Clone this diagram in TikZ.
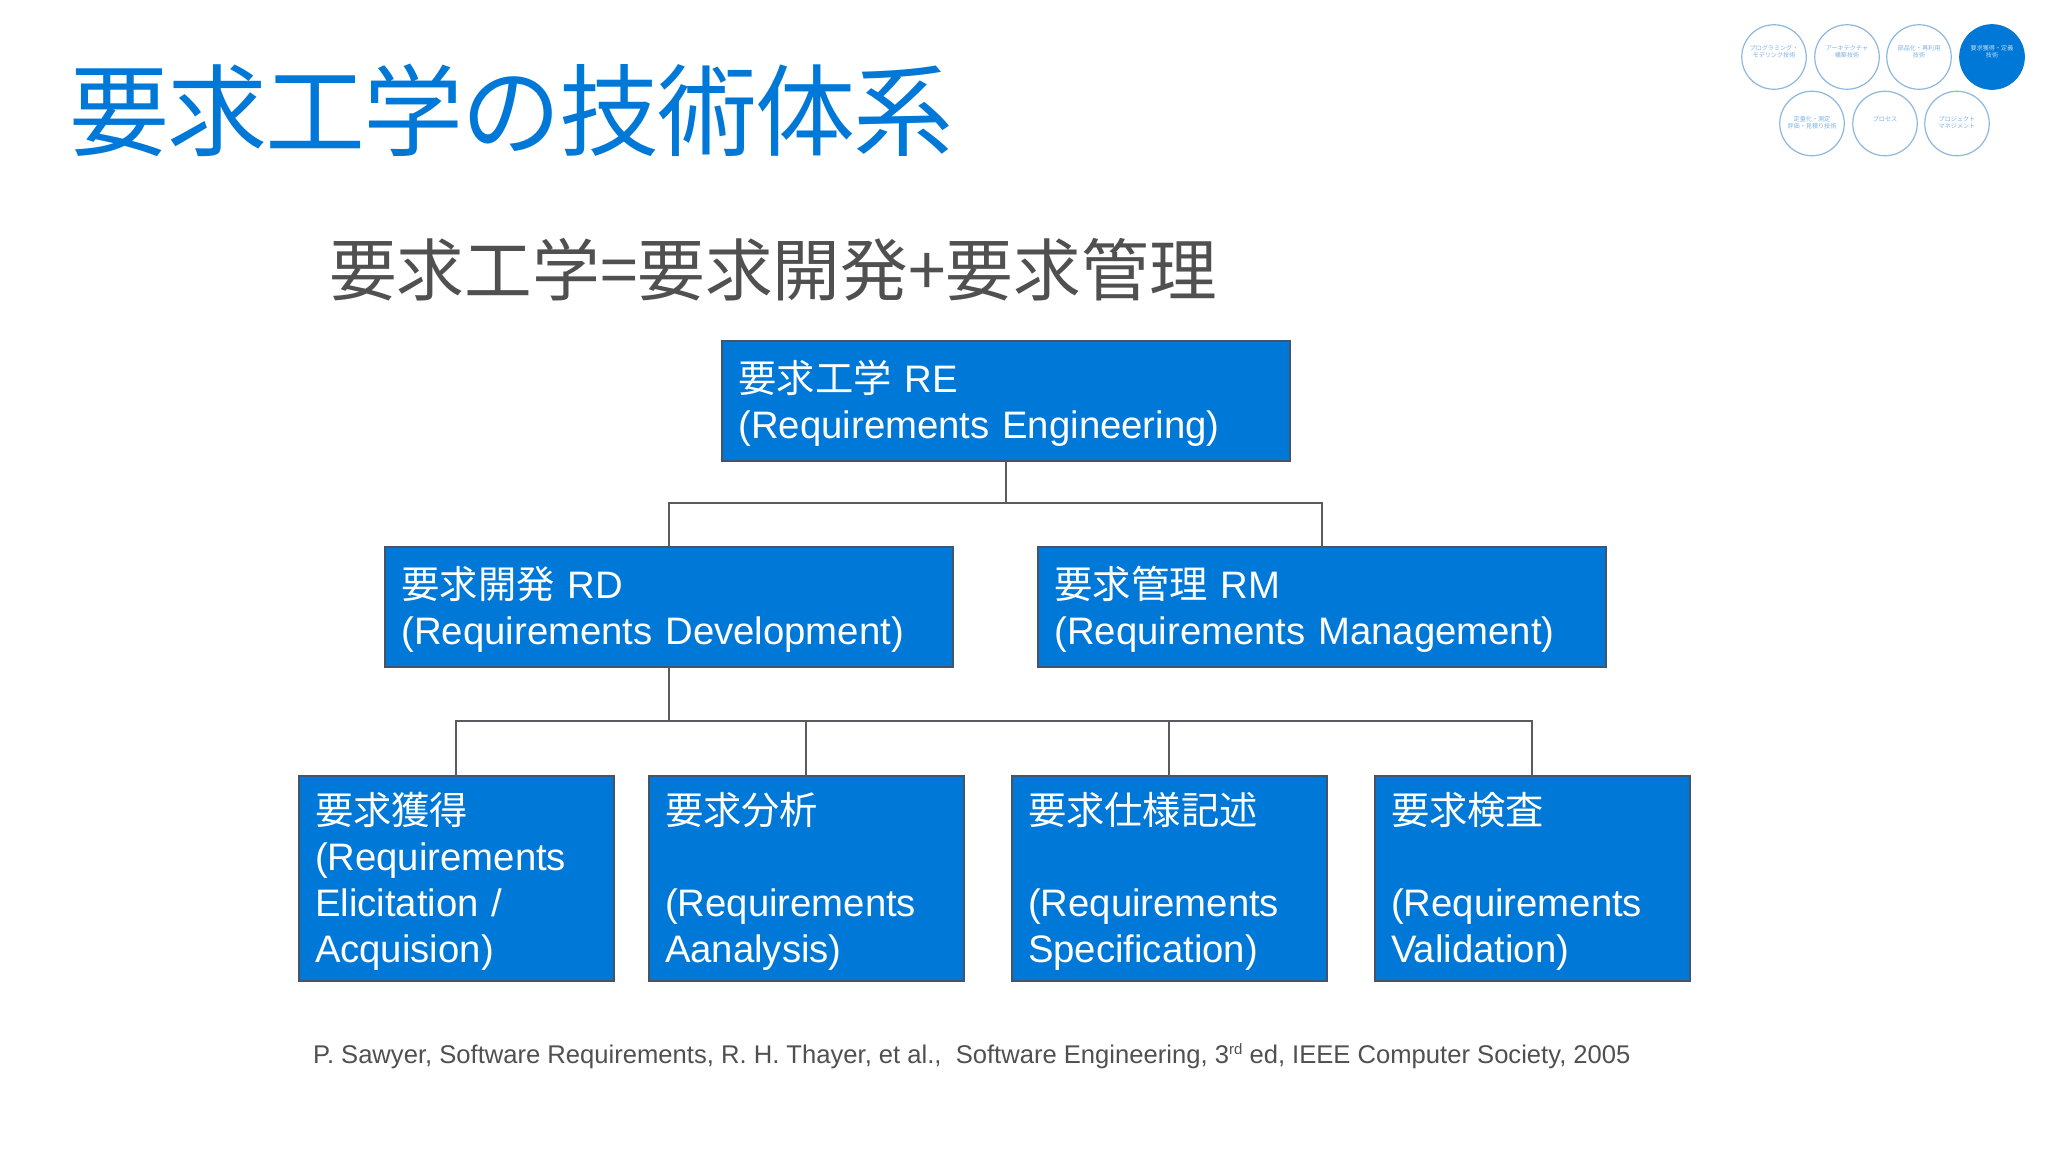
\documentclass[tikz,border=0pt]{standalone}
\usepackage{fontspec}
\setmainfont{Liberation Sans}
\newfontfamily\cjk{Noto Sans CJK JP}
\newcommand{\J}[1]{{\cjk\rule{0pt}{38pt}#1}}
\definecolor{boxblue}{HTML}{0078D7}
\definecolor{boxedge}{HTML}{44546A}
\definecolor{linegray}{HTML}{5A5A60}
\definecolor{headgray}{HTML}{505050}
\definecolor{circedge}{HTML}{8DB8E0}
\definecolor{circtext}{HTML}{7FB2E5}
\tikzset{
  x=1pt,y=-1pt,
  bluebox/.style={draw=boxedge,line width=2pt,fill=boxblue,text=white,outer sep=0pt,inner sep=0pt,
    align=left,font=\fontsize{38.3}{46}\selectfont},
  widebox/.style={bluebox,minimum width=568pt,minimum height=120pt,text width=535pt},
  tallbox/.style={bluebox,minimum width=315pt,minimum height=205pt,text width=282pt},
  link/.style={draw=linegray,line width=2pt},
  badge/.style={circle,draw=circedge,line width=1.2pt,minimum size=64.5pt,inner sep=0pt},
  badgeon/.style={badge,fill=boxblue,draw=boxblue},
  badgetext/.style={inner sep=0pt,align=center,text=circtext,font=\fontsize{6.1}{7}\selectfont\cjk},
  badgetexton/.style={badgetext,text=white!75!boxblue},
}
\begin{document}
\begin{tikzpicture}
\useasboundingbox (0,0) rectangle (2048,1152);
\fill[white] (0,0) rectangle (2048,1152);
\node[anchor=west,inner sep=0pt,text=boxblue,font=\fontsize{100}{110}\selectfont\cjk\addfontfeature{LetterSpace=-2}] (title) at (69,110) {要求工学の技術体系};
\node[anchor=west,inner sep=0pt,text=headgray,font=\fontsize{67.7}{76}\selectfont\cjk] (head) at (329,270) {要求工学=要求開発+要求管理};

\node[badge,label={[badgetext,yshift=5pt]center:{プログラミング・\\モデリング技術}}] (c1) at (1774,57) {};
\node[badge,label={[badgetext,yshift=5pt]center:{アーキテクチャ\\構築技術}}] (c2) at (1847,57) {};
\node[badge,label={[badgetext,yshift=5pt]center:{部品化・再利用\\技術}}] (c3) at (1919,57) {};
\node[badgeon,label={[badgetexton,yshift=5pt]center:{要求獲得・定義\\技術}}] (c4) at (1992,57) {};
\node[badge,label={[badgetext,yshift=1pt]center:{定量化・測定\\評価・見積り技術}}] (c5) at (1812,123.5) {};
\node[badge,label={[badgetext,yshift=4pt]center:{プロセス}}] (c6) at (1885,123.5) {};
\node[badge,label={[badgetext,yshift=1pt]center:{プロジェクト\\マネジメント}}] (c7) at (1957,123.5) {};

\node[widebox] (re) at (1006,400.5) {\J{要求工学} RE\\(Requirements Engineering)};
\node[widebox] (rd) at (669,606.5) {\J{要求開発} RD\\(Requirements Development)};
\node[widebox] (rm) at (1322,606.5) {\J{要求管理} RM\\(Requirements Management)};

\node[tallbox] (a1) at (456,878.5) {\J{要求獲得}\\(Requirements\\Elicitation /\\Acquision)};
\node[tallbox] (a2) at (806,878.5) {\J{要求分析}\\\mbox{}\\(Requirements\\Aanalysis)};
\node[tallbox] (a3) at (1169,878.5) {\J{要求仕様記述}\\\mbox{}\\(Requirements\\Specification)};
\node[tallbox] (a4) at (1532,878.5) {\J{要求検査}\\\mbox{}\\(Requirements\\Validation)};

\coordinate (bus1) at (1006,503);
\coordinate (bus2) at (669,721);
\draw[link] (re.south) -- (bus1);
\draw[link] (rd.north) |- (bus1) -| (rm.north);
\draw[link] (rd.south) -- (bus2);
\draw[link] (a1.north) |- (bus2) -| (a4.north);
\draw[link] (a2.north) -- (a2.north |- bus2);
\draw[link] (a3.north) -- (a3.north |- bus2);

\node[anchor=base west,inner sep=0pt,text=headgray,font=\fontsize{25.6}{30}\selectfont] (ref) at (313,1063)
  {P. Sawyer, Software Requirements, R. H. Thayer, et al.,\ \ Software Engineering, 3\raisebox{9pt}{\fontsize{15}{15}\selectfont rd} ed, IEEE Computer Society, 2005};
\end{tikzpicture}
\end{document}
